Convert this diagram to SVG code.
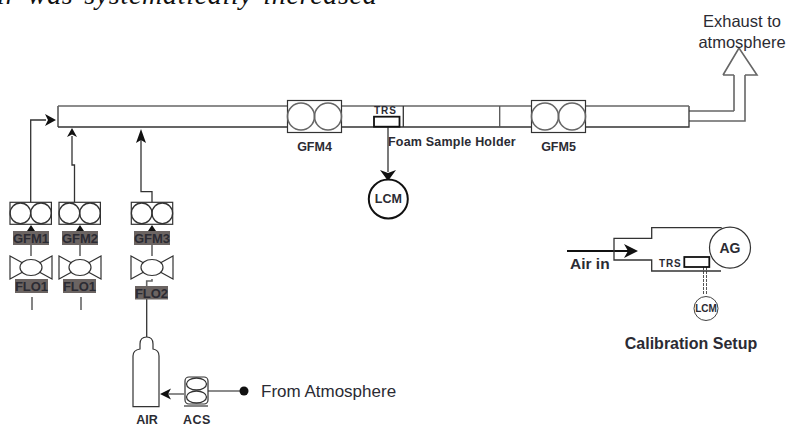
<svg xmlns="http://www.w3.org/2000/svg" width="787" height="426" viewBox="0 0 787 426">
<style>
text{font-family:"Liberation Sans",Arial,sans-serif;fill:#2b2b33}
.b{font-weight:bold;font-size:12.500px}
.f{font-weight:bold;font-size:13px}
.m{text-anchor:middle}
.s{fill:#fff;stroke:#333;stroke-width:1.2}
.n{fill:none;stroke:#333;stroke-width:1.3}
.g{fill:none;stroke:#666;stroke-width:1.6}
.lab{fill:#6b6462}
.h{fill:#111;stroke:none}
</style>
<defs>
<g id="meter"><rect class="s" x="-20.700" y="-11" width="41.400" height="22"/><circle class="n" cx="-10.300" r="10.300"/><circle class="n" cx="10.300" r="10.300"/></g>
<g id="valve"><path class="s" d="M-21-11.500L21 11.500V-11.500L-21 11.500Z"/><ellipse class="s" rx="11" ry="8"/></g>
<g id="big"><rect class="s" x="-27" y="-16" width="54" height="32"/><circle class="g" cx="-13.500" r="13.500"/><circle class="g" cx="13.500" r="13.500"/></g>
</defs>
<text x="-3" y="4" letter-spacing=".7" word-spacing="3" style="font-family:'Liberation Serif',serif;font-style:italic;font-size:28px;fill:#111">ir was systematically increased</text>
<g id="connectors">
<path class="g" d="M734 111H689M734 111V75M689 121H745V75"/>
<path class="n" d="M30.700 202V120H46"/><path class="h" d="M56 120L45 114L48 120L45 126Z"/>
<path class="n" d="M74.500 202V165H72V136"/><path class="h" d="M72 128L67 137L72 134.500L77 137Z"/>
<path class="n" d="M152 202V191.700H141V140"/><path class="h" d="M141 129L136 143L141 140L146 143Z"/>
<path class="g" d="M31 245V256M80 245V256M152 245V256M152 279V281H146.700V286"/>
<path class="h" d="M31 225L27 231H35ZM80 225L76 231H84ZM152 225L148 231H156Z"/>
<path class="g" d="M32 297V310M81 297V310"/>
<path class="n" d="M146.700 299V337"/>
<path class="g" d="M184 394H168M208 391H244"/><path class="h" d="M160 394L171 388.500L168 394L171 399.500Z"/>
<circle class="h" cx="244" cy="391" r="4.500"/>
<path class="n" d="M388 127V172"/><path class="h" d="M388 181L380 170L388 173L396 170Z"/>
<path d="M567 251H632" fill="none" stroke="#111" stroke-width="2"/><path class="h" d="M638 251L624 244L628 251L624 258Z"/>
<path d="M703.500 267V295M706.500 267V295" fill="none" stroke="#555" stroke-width="1" stroke-dasharray="3 1"/>
</g>
<g id="pipe"><rect x="58" y="106" width="631" height="21" fill="#fff" stroke="none"/><path class="n" d="M58 127V106M58 127H689V106"/><path class="g" d="M58 106H689"/><path class="n" d="M403.300 106V127"/><path d="M499.700 106V127" fill="none" stroke="#555" stroke-width="1.300"/></g>
<g id="exhaust"><path class="g" d="M723 75L739 48L757 75H745M734 75H723"/><text x="742" y="27" class="m" font-size="16.500">Exhaust to</text><text x="742" y="48" class="m" font-size="16.500">atmosphere</text></g>
<g id="gfm1"><use href="#meter" x="30.700" y="213.300"/><rect class="lab" x="13" y="231" width="36" height="14"/><text x="31" y="243" class="f m">GFM1</text></g>
<g id="gfm2"><use href="#meter" x="79.700" y="213.300"/><rect class="lab" x="62" y="231" width="36" height="14"/><text x="80" y="243" class="f m">GFM2</text></g>
<g id="gfm3"><use href="#meter" x="152" y="213.300"/><rect class="lab" x="134" y="231" width="36" height="14"/><text x="152" y="243" class="f m">GFM3</text></g>
<g id="flo1a"><use href="#valve" x="31" y="267.500"/><rect class="lab" x="15" y="279" width="33" height="14"/><text x="31.500" y="291" class="f m">FLO1</text></g>
<g id="flo1b"><use href="#valve" x="80" y="267.500"/><rect class="lab" x="63" y="279" width="33" height="14"/><text x="79.500" y="291" class="f m">FLO1</text></g>
<g id="flo2"><use href="#valve" x="152" y="267.500"/><rect class="lab" x="135" y="286" width="33" height="13.500"/><text x="151.500" y="298" class="f m">FLO2</text></g>
<g id="gfm4"><use href="#big" x="314.500" y="116.500"/><text x="314.500" y="151" class="b m">GFM4</text></g>
<g id="gfm5"><use href="#big" x="558.500" y="116.500"/><text x="558.500" y="151" class="b m">GFM5</text></g>
<g id="trs"><rect x="374" y="116.700" width="25.500" height="10" fill="#fff" stroke="#111" stroke-width="1.800"/><text x="374" y="114" font-size="10" letter-spacing="1" font-weight="bold">TRS</text></g>
<g id="holder"><text x="388" y="146" class="b" letter-spacing=".2">Foam Sample Holder</text></g>
<g id="lcm"><circle cx="388.300" cy="199" r="19.500" fill="#fff" stroke="#111" stroke-width="2"/><text x="388.300" y="203" class="b m">LCM</text></g>
<g id="air"><path class="s" d="M133 406.700V356Q133 350 140 349V344Q140 337 146.700 337Q153 337 153 344V349Q159 350 159 356V406.700Z"/><text x="147" y="424" class="b m">AIR</text></g>
<g id="acs"><rect class="s" x="185" y="377" width="23" height="27" rx="4"/><ellipse class="n" cx="196.500" cy="384" rx="10" ry="6"/><ellipse class="n" cx="196.500" cy="397" rx="10" ry="6"/><path class="g" d="M184 406H208"/><text x="197" y="424" class="b m" letter-spacing=".5">ACS</text></g>
<g id="from"><text x="261" y="397" font-size="17">From Atmosphere</text></g>
<g id="calibration">
<path class="n" d="M721.700 227.700H651.700V238.300H614V260H651.700V271H721"/>
<circle cx="730" cy="247.700" r="20.500" fill="#fff" stroke="#333" stroke-width="1.200"/><text x="730" y="253" class="m" font-size="14" font-weight="bold">AG</text>
<rect x="684.300" y="257" width="25" height="10" fill="#fff" stroke="#111" stroke-width="1.800"/>
<text x="659" y="267" font-size="10" font-weight="bold" letter-spacing=".8">TRS</text>
<text x="570" y="269" font-size="15.500" font-weight="bold">Air in</text>
<circle cx="706" cy="308.500" r="12" fill="#fff" stroke="#444"/><text x="706" y="312" class="m" font-size="10" font-weight="bold">LCM</text>
<text x="691" y="349" class="m" font-size="16" font-weight="bold">Calibration Setup</text>
</g>
</svg>
